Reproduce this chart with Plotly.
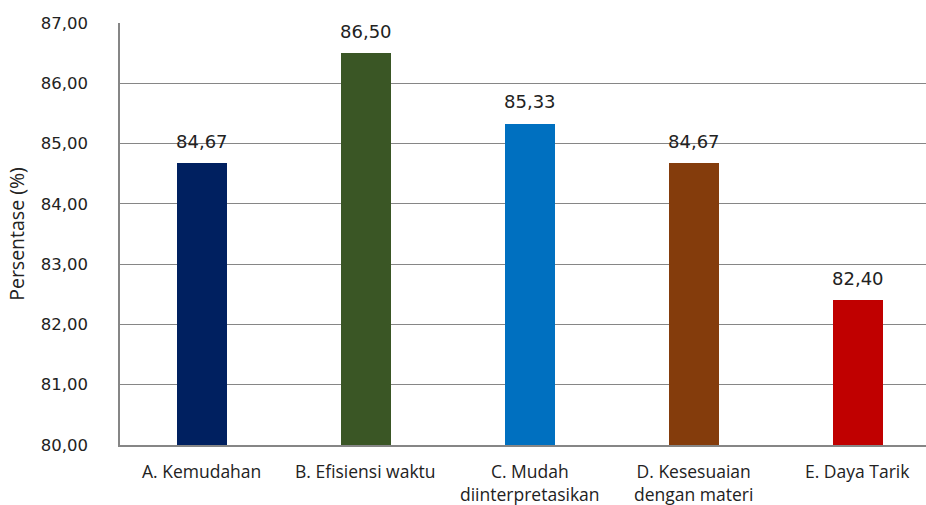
import plotly.graph_objects as go

categories = ["A. Kemudahan", "B. Efisiensi waktu", "C. Mudah<br>diinterpretasikan",
              "D. Kesesuaian<br>dengan materi", "E. Daya Tarik"]
values = [84.67, 86.50, 85.33, 84.67, 82.40]
colors = ["#002060", "#3A5625", "#0070C0", "#843C0C", "#C00000"]
y_ticks = [80, 81, 82, 83, 84, 85, 86, 87]

def fmt(v):
    return f"{v:.2f}".replace(".", ",")

x_idx = list(range(len(categories)))

fig = go.Figure()
fig.add_trace(go.Bar(
    x=x_idx, y=values, width=0.31,
    marker=dict(color=colors, line=dict(width=0)),
    hoverinfo="skip",
))

for i, v in zip(x_idx, values):
    fig.add_annotation(x=i, y=v, text=fmt(v), showarrow=False, yanchor="middle",
                       yshift=22, font=dict(family="DejaVu Sans", size=18, color="#222222"))

for i, lab in zip(x_idx, categories):
    fig.add_annotation(x=i, xref="x", y=0, yref="paper", text=lab, showarrow=False,
                       yanchor="top", yshift=-12, align="center",
                       font=dict(family="Open Sans", size=17.5, color="#222222"))

fig.update_layout(
    width=926, height=505,
    margin=dict(l=120, r=0, t=23, b=60),
    paper_bgcolor="white", plot_bgcolor="white",
    showlegend=False,
    bargap=0,
)
fig.update_xaxes(
    tickvals=x_idx, showticklabels=False,
    range=[-0.5, 4.415],
    showline=True, linecolor="#868686", linewidth=1.5,
    showgrid=False, ticks="", automargin=False,
)
fig.update_yaxes(
    range=[80, 87], tickvals=y_ticks, ticktext=[fmt(t) for t in y_ticks],
    showline=True, linecolor="#868686", linewidth=1.5,
    showgrid=True, gridcolor="#868686", gridwidth=1.2,
    ticks="", ticklabelstandoff=27, automargin=False,
    tickfont=dict(family="DejaVu Sans", size=16.5, color="#222222"),
    title=dict(text="Persentase (%)", font=dict(family="Open Sans", size=19.5, color="#222222"), standoff=11),
    zeroline=False,
)

fig.write_html("out.html", config={"displayModeBar": False},
               post_script="document.body.style.margin='0';document.body.style.overflow='hidden';")
